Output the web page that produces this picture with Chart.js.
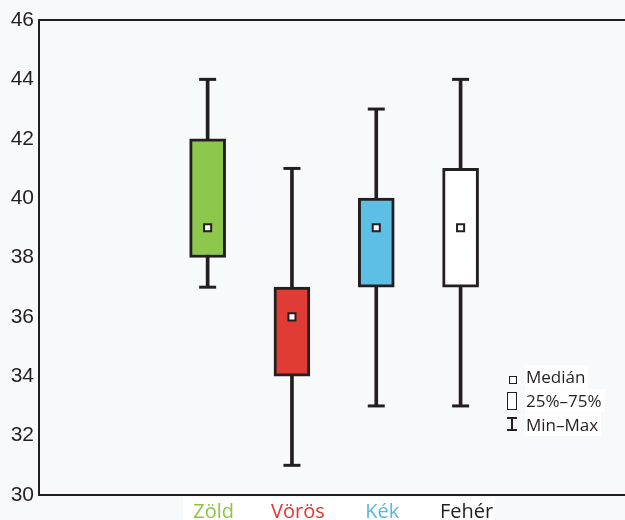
<!DOCTYPE html>
<html lang="hu">
<head>
<meta charset="utf-8">
<title>Zöld, Vörös, Kék, Fehér</title>
<script src="https://cdn.jsdelivr.net/npm/chart.js@4/dist/chart.umd.min.js"></script>
<style>
  html, body { margin: 0; padding: 0; background: #ffffff; }
  #wrap { position: relative; width: 625px; height: 520px; background: #f8f9fa; overflow: hidden; }
  #strip { position: absolute; left: 183px; top: 497px; width: 311px; height: 23px; background: #ffffff; }
  #chart { position: absolute; left: 0; top: 0; }
  .key { position: absolute; font-family: "Open Sans", sans-serif; font-size: 17px; color: #231f20; line-height: 1; white-space: nowrap; }
  .key span { background: #ffffff; padding: 0 3px 0 1px; }
  .sym { position: absolute; box-sizing: border-box; }
</style>
</head>
<body>
<div id="wrap">
  <div id="strip"></div>
  <canvas id="chart" width="625" height="520"></canvas>

  <div class="sym" style="left:509px;top:376px;width:8px;height:8px;border:1.5px solid #231f20;background:#fff;"></div>
  <div class="key" style="left:525px;top:368px;"><span>Medián</span></div>

  <div class="sym" style="left:507px;top:392px;width:10px;height:18px;border:1.5px solid #231f20;background:#fff;"></div>
  <div class="key" style="left:525px;top:392px;"><span>25%–75%</span></div>

  <div class="sym" style="left:507px;top:417px;width:10px;height:1.5px;background:#231f20;"></div>
  <div class="sym" style="left:511.25px;top:417px;width:1.5px;height:13px;background:#231f20;"></div>
  <div class="sym" style="left:507px;top:429px;width:10px;height:1.5px;background:#231f20;"></div>
  <div class="key" style="left:525px;top:416px;"><span>Min–Max</span></div>
</div>

<script>
// Box plot data, one entry per category
const categories = ['Zöld', 'Vörös', 'Kék', 'Fehér'];
const minValues    = [37, 31, 33, 33];
const q1Values     = [38, 34, 37, 37];
const medianValues = [39, 36, 39, 39];
const q3Values     = [42, 37, 40, 41];
const maxValues    = [44, 41, 43, 44];
const yTickValues  = [30, 32, 34, 36, 38, 40, 42, 44, 46];

const boxColors   = ['#8dc84c', '#e03b34', '#5dbee6', '#ffffff'];
const labelColors = ['#8cc63f', '#e4332d', '#5bb6e4', '#231f20'];
const ink = '#231f20';

const idx = categories.map((_, i) => i);

const whiskerData = idx.map(i => ({ x: i, y: [minValues[i], maxValues[i]] }));
const boxData     = idx.map(i => ({ x: i, y: [q1Values[i], q3Values[i]] }));
const capData     = idx.flatMap(i => [{ x: i, y: minValues[i] }, { x: i, y: maxValues[i] }]);
const medianData  = idx.map(i => ({ x: i, y: medianValues[i] }));

// keep the plot edges fixed: no extra room reserved for edge labels
const noEdgePadding = s => { s.paddingLeft = 0; s.paddingRight = 0; s.paddingTop = 0; s.paddingBottom = 0; };

new Chart(document.getElementById('chart'), {
  type: 'bar',
  data: {
    datasets: [
      {
        type: 'scatter', label: 'Medián', data: medianData, order: 0,
        pointStyle: 'rect', pointRadius: 5, pointBorderWidth: 2,
        pointBackgroundColor: '#ffffff', pointBorderColor: ink
      },
      {
        label: '25%–75%', data: boxData, order: 1, grouped: false,
        barThickness: 36, borderWidth: 3, borderSkipped: false,
        borderColor: ink, backgroundColor: boxColors
      },
      {
        type: 'scatter', label: 'Min–Max', data: capData, order: 2,
        pointStyle: 'line', pointRadius: 8.5, pointBorderWidth: 3,
        pointBorderColor: ink, pointBackgroundColor: ink
      },
      {
        label: 'whisker', data: whiskerData, order: 3, grouped: false,
        barThickness: 3, borderWidth: 0, backgroundColor: ink
      }
    ]
  },
  options: {
    responsive: false,
    animation: false,
    events: [],
    devicePixelRatio: 1,
    layout: { padding: 0, autoPadding: false },
    plugins: { legend: { display: false }, tooltip: { enabled: false } },
    scales: {
      x: {
        type: 'linear', position: 'bottom', offset: false,
        min: -2, max: 4.95,
        afterFit: s => { s.height = 25; noEdgePadding(s); },
        afterBuildTicks: s => { s.ticks = idx.map(v => ({ value: v })); },
        grid: { display: false, drawTicks: false, offset: false },
        border: { display: true, color: ink, width: 2 },
        ticks: {
          autoSkip: false, maxRotation: 0, padding: 5, labelOffset: 6,
          font: { family: 'Open Sans', size: 20 },
          color: c => labelColors[c.tick ? c.tick.value : 0] || ink,
          callback: v => categories[v] ?? ''
        }
      },
      xTop: {
        type: 'linear', position: 'top', offset: false, min: -2, max: 4.95,
        afterFit: s => { s.height = 20; noEdgePadding(s); },
        grid: { display: false, drawTicks: false },
        border: { display: true, color: ink, width: 2 },
        ticks: { display: false }
      },
      y: {
        type: 'linear', min: 30, max: 46,
        afterFit: s => { s.width = 39; noEdgePadding(s); },
        afterBuildTicks: s => { s.ticks = yTickValues.map(v => ({ value: v })); },
        grid: { display: false, drawTicks: false },
        border: { display: true, color: ink, width: 2 },
        ticks: {
          padding: 5,
          font: { family: 'Liberation Sans', size: 21 },
          color: ink
        }
      }
    }
  }
});
</script>
</body>
</html>
